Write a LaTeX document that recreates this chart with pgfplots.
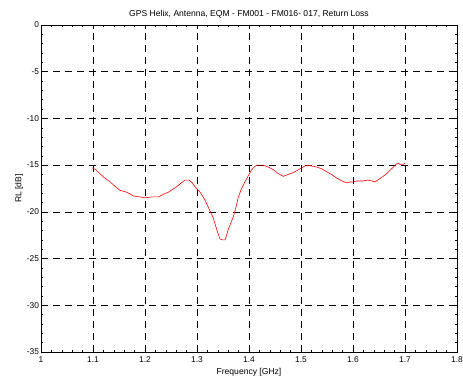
\documentclass[border=0pt]{standalone}
\usepackage{pgfplots}
\pgfplotsset{compat=1.18}
\usepackage{fontspec}
\setmainfont{Liberation Sans}
\begin{document}
\begin{tikzpicture}
\begin{axis}[
  name=ax,
  scale only axis,
  width=416bp, height=327bp,
  xmin=1, xmax=1.8, ymin=-35, ymax=0,
  xtick={1,1.1,...,1.8},
  xticklabels={1,1.1,1.2,1.3,1.4,1.5,1.6,1.7,1.8},
  ytick={-35,-30,...,0},
  minor x tick num=4,
  minor y tick num=4,
  tick align=inside,
  major tick length=4bp,
  minor tick length=2bp,
  tick style={black, line width=0.5pt},
  axis line style={black, line width=0.8pt},
  grid=major,
  major grid style={black, line width=0.7pt, dash pattern=on 7bp off 5bp},
  /pgf/number format/assume math mode=true,
  ticklabel style={font=\fontsize{8.4}{9}\selectfont},
  xticklabel style={yshift=-1bp},
  yticklabel style={xshift=1.5bp},
  title={GPS Helix, Antenna, EQM - FM001 - FM016- 017, Return Loss},
  title style={font=\fontsize{8.6}{10}\selectfont, yshift=-3bp},
  xlabel={Frequency [GHz]},
  ylabel={RL [dB]},
  label style={font=\fontsize{8.6}{10}\selectfont},
  xlabel style={yshift=1bp},
  ylabel style={yshift=-3bp},
  clip=true,
]
\addplot[red, line width=0.6pt] coordinates {
(1.099,-15.3) (1.106,-15.5) (1.113,-15.9) (1.123,-16.4) (1.133,-16.8)
(1.143,-17.3) (1.152,-17.7) (1.165,-17.9) (1.178,-18.3) (1.190,-18.4)
(1.200,-18.5) (1.213,-18.4) (1.226,-18.4) (1.236,-18.1) (1.245,-17.9)
(1.253,-17.6) (1.261,-17.3) (1.270,-16.9) (1.277,-16.6) (1.285,-16.6)
(1.291,-16.9) (1.296,-17.3) (1.306,-17.9) (1.315,-18.7) (1.320,-19.3)
(1.325,-19.9) (1.331,-20.6) (1.338,-21.9) (1.344,-22.9) (1.349,-23.0)
(1.354,-23.0) (1.360,-21.9) (1.365,-21.2) (1.370,-20.5) (1.375,-19.5)
(1.379,-18.5) (1.385,-17.6) (1.392,-16.8) (1.399,-16.1) (1.405,-15.5)
(1.410,-15.2) (1.415,-15.0) (1.427,-15.0) (1.437,-15.2) (1.447,-15.5)
(1.456,-15.9) (1.466,-16.2) (1.475,-16.0) (1.485,-15.8) (1.498,-15.4)
(1.507,-15.1) (1.514,-15.0) (1.522,-15.1) (1.530,-15.2) (1.540,-15.4)
(1.549,-15.7) (1.559,-16.0) (1.569,-16.4) (1.579,-16.7) (1.588,-16.9)
(1.594,-16.8) (1.600,-16.8) (1.607,-16.7) (1.618,-16.7) (1.629,-16.6)
(1.636,-16.7) (1.642,-16.8) (1.650,-16.5) (1.658,-16.2) (1.665,-15.9)
(1.672,-15.5) (1.678,-15.2) (1.683,-14.9) (1.687,-14.8) (1.690,-14.9)
(1.694,-15.0) (1.697,-14.9) (1.700,-14.8)
};
\end{axis}
\pgfresetboundingbox
\path ([xshift=-41bp,yshift=-27bp]ax.south west) rectangle ([xshift=6bp,yshift=25bp]ax.north east);
\end{tikzpicture}
\end{document}
